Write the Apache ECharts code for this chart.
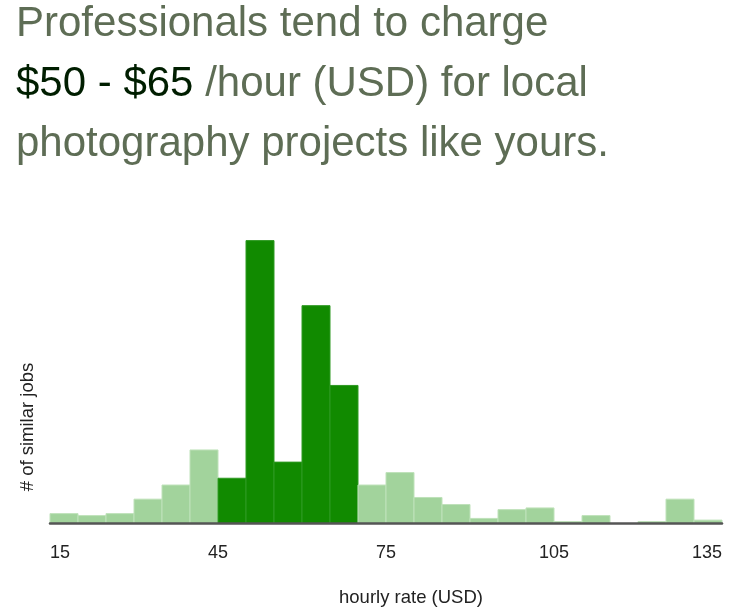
<!DOCTYPE html>
<html>
<head>
<meta charset="utf-8">
<script src="https://cdn.jsdelivr.net/npm/echarts@6/dist/echarts.min.js"></script>
<style>
html,body{margin:0;padding:0;background:#fff;}
#chart{width:748px;height:616px;}
</style>
</head>
<body>
<div id="chart"></div>
<script>
// Histogram bins (hourly rate, USD) – left edges, bin width 5
var binStarts = [15, 20, 25, 30, 35, 40, 45, 50, 55, 60, 65, 70, 75, 80, 85, 90, 95, 100, 105, 110, 115, 120, 125, 130];
var binWidth = 5;
// relative number of similar jobs per bin (max = 100)
var jobCounts = [3.5, 2.8, 3.5, 8.6, 13.6, 26, 16, 100, 21.7, 77, 48.8, 13.6, 18, 9.2, 6.7, 1.8, 4.9, 5.5, 0.7, 2.8, 0, 0.7, 8.6, 1.2];
// bins in the highlighted typical range
var highlightBins = [45, 50, 55, 60, 65];
var tickLabels = [15, 45, 75, 105, 135];

var titleLines = [
  [{t: 'Professionals tend to charge', s: 'n'}],
  [{t: '$50 - $65', s: 'b'}, {t: ' /hour (USD) for local', s: 'n'}],
  [{t: 'photography projects like yours.', s: 'n'}]
];

var chart = echarts.init(document.getElementById('chart'), null, {renderer: 'canvas'});

var data = binStarts.map(function (s, i) { return [s, jobCounts[i]]; });

var FS = 42;
var baselines = [37.5, 97, 157];
var graphics = titleLines.map(function (line, li) {
  var txt = line.map(function (p) { return '{' + p.s + '|' + p.t + '}'; }).join('');
  return {
    type: 'text',
    left: 16,
    top: baselines[li] - FS * 0.81,
    style: {
      text: txt,
      rich: {
        n: {fontSize: FS, fontFamily: 'Liberation Sans, Arial, sans-serif', fill: '#5e6d55', lineHeight: FS},
        b: {fontSize: FS, fontFamily: 'Liberation Sans, Arial, sans-serif', fill: '#001e00', lineHeight: FS}
      }
    }
  };
});
graphics.push({
  type: 'text',
  x: 28, y: 427,
  rotation: Math.PI / 2,
  style: {
    text: '# of similar jobs',
    fontSize: 18.5, fontFamily: 'Liberation Sans, Arial, sans-serif', fill: '#222',
    align: 'center', verticalAlign: 'middle'
  }
});
graphics.push({
  type: 'text',
  x: 411, y: 598,
  style: {
    text: 'hourly rate (USD)',
    fontSize: 18.5, fontFamily: 'Liberation Sans, Arial, sans-serif', fill: '#222',
    align: 'center', verticalAlign: 'middle'
  }
});

chart.setOption({
  animation: false,
  grid: {left: 50, right: 26, top: 240.6, bottom: 616 - 523.5},
  xAxis: {
    type: 'value',
    min: 15, max: 135, interval: 30,
    axisLine: {show: true, onZero: false, lineStyle: {color: '#555', width: 2.5}},
    axisTick: {show: false},
    splitLine: {show: false},
    axisLabel: {
      margin: 21,
      fontSize: 18, color: '#222', fontFamily: 'Liberation Sans, Arial, sans-serif',
      alignMinLabel: 'left', alignMaxLabel: 'right',
      formatter: function (v) { return tickLabels.indexOf(v) >= 0 ? String(v) : ''; }
    },
    z: 5
  },
  yAxis: {
    type: 'value', min: 0, max: 100,
    show: false
  },
  graphic: graphics,
  series: [{
    type: 'custom',
    data: data,
    renderItem: function (params, api) {
      var x0 = api.value(0), h = api.value(1);
      if (!h) return null;
      var p0 = api.coord([x0, 0]);
      var p1 = api.coord([x0 + binWidth, h]);
      var hi = highlightBins.indexOf(x0) >= 0;
      return {
        type: 'rect',
        shape: {x: p0[0], y: p1[1], width: p1[0] - p0[0], height: p0[1] - p1[1]},
        style: {
          fill: hi ? '#118a00' : '#a2d39c',
          stroke: hi ? '#2f9a22' : '#bfe2ba',
          lineWidth: 1
        }
      };
    },
    encode: {x: 0, y: 1}
  }]
});
</script>
</body>
</html>
